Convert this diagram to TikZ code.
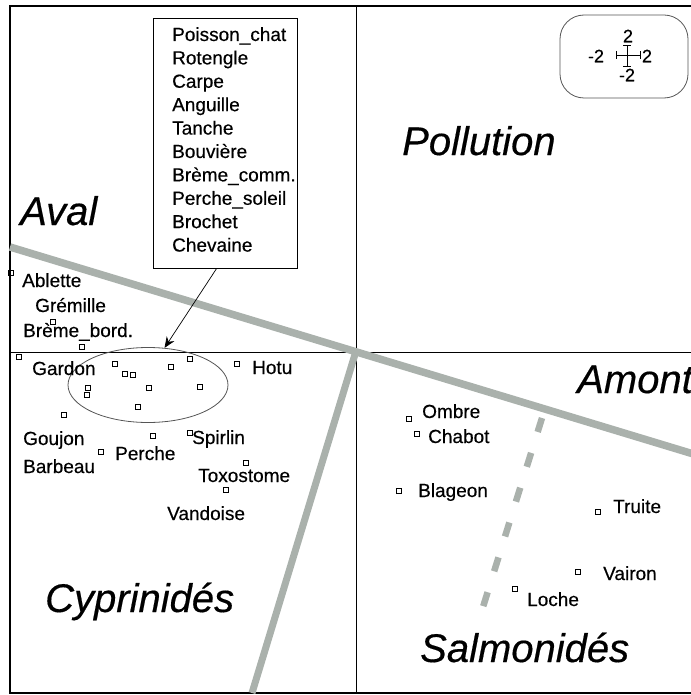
\documentclass[tikz,border=0pt]{standalone}
\usepackage{fontspec}
\setmainfont{Liberation Sans}[FakeBold=0.4]
\usetikzlibrary{shapes.geometric,arrows.meta,positioning}
\definecolor{grisaxe}{RGB}{170,177,172}
\definecolor{grisfin}{RGB}{85,85,85}
\newcommand{\petit}{\fontsize{19bp}{23.4bp}\selectfont}
\newcommand{\grand}{\fontsize{40bp}{41bp}\selectfont\itshape}
\tikzset{
    x = 1bp, y = -1bp,
    espece/.style = { anchor = base west, inner sep = 0,
        font = \petit
    },
    titre/.style = { anchor = base west, inner sep = 0,
        font = \grand
    },
    chiffre/.style = { inner sep = 0,
        font = \fontsize{18bp}{20bp}\selectfont
    },
    marque/.style = { draw, rectangle, line width = 0.7bp,
        minimum size = 4.5bp, inner sep = 0,
        node contents={}
    },
    cadre/.style = { draw, line width = 1.2bp },
    trait/.style = { draw, line width = 1bp },
    axe/.style = { draw = grisaxe, line width = 7.5bp },
    fleche/.style = { -{Stealth[length=11bp, width=9bp]}, line width = 0.7bp },
    croix/.style = { line width = 0.8bp }
}

\begin{document}
\begin{tikzpicture}
        \useasboundingbox (0,0) rectangle (691,695);

        % frame and quadrants...
        \draw[cadre] (10,6) rectangle (700,693);
        \draw[trait] (356,6) -- (356,693);
        \draw[trait] (10,352) -- (700,352);

        % grey axes...
        \coordinate (aval)    at (10,247);
        \coordinate (amont)   at (700,456);
        \coordinate (centre)  at (356,351);
        \coordinate (pied)    at (252,693);
        \coordinate (d_haut)  at (542,418);
        \coordinate (d_bas)   at (483,607);
        \path[axe] (aval) -- (amont);
        \path[axe, line width = 7bp] (centre) -- (pied);
        \path[axe, line width = 6.5bp, dash pattern = on 14.6bp off 21.9bp] (d_haut) -- (d_bas);

        % big labels...
        \node[titre] (t_aval)  at (20,225)  {Aval};
        \node[titre] (t_poll)  at (402,155) {Pollution};
        \node[titre] (t_amont) at (577,393) {Amont};
        \node[titre] (t_cyp)   at (45,612)  {Cyprinidés};
        \node[titre] (t_salm)  at (420,662) {Salmonidés};

        % scale box...
        \node[draw = grisfin, line width = 0.8bp, rounded corners = 24bp,
              minimum width = 128bp, minimum height = 83bp] (echelle) at (624,56.5) {};
        \node[chiffre] (haut)   at (628,36) {2};
        \node[chiffre] (gauche) at (596,56) {-2};
        \node[chiffre] (droite) at (647,56) {2};
        \node[chiffre] (bas)    at (627,75) {-2};
        \draw[croix] (616,55) -- (640,55);
        \draw[croix] (627,45) -- (627,66);
        \draw[croix] (616,51) -- (616,59);
        \draw[croix] (640,51) -- (640,59);
        \draw[croix] (623,45) -- (631,45);
        \draw[croix] (623,66) -- (631,66);

        % species list...
        \node[cadre, line width = 0.8bp, rectangle, anchor = north west, inner sep = 0,
              minimum width = 144bp, minimum height = 250bp] (liste) at (153,18) {};
        \node[espece, anchor = north west, align = left] (noms) at (172,27) {
            Poisson\_chat\\ Rotengle\\ Carpe\\ Anguille\\ Tanche\\
            Bouvière\\ Brème\_comm.\\ Perche\_soleil\\ Brochet\\ Chevaine
        };

        % cluster...
        \node[ellipse, draw = grisfin, line width = 0.8bp, inner sep = 0,
              minimum width = 160bp, minimum height = 75bp] (groupe) at (148,385) {};
        \draw[fleche] (liste.south) ++(-9,0) -- (groupe.66);
        \node (g1)  at (115,364) [marque];
        \node (g2)  at (125,374) [marque];
        \node (g3)  at (133,375) [marque];
        \node (g4)  at (171,367) [marque];
        \node (g5)  at (190,359) [marque];
        \node (g6)  at (88,388)  [marque];
        \node (g7)  at (87,395)  [marque];
        \node (g8)  at (149,388) [marque];
        \node (g9)  at (200,387) [marque];
        \node (g10) at (138,407) [marque];

        % cyprinids...
        \node (m_abl)  at (11,273)  [marque];
        \node (m_gre)  at (53,322)  [marque];
        \node (m_brb)  at (82,347)  [marque];
        \node (m_gar)  at (19,357)  [marque];
        \node (m_hot)  at (237,364) [marque];
        \node (m_gou)  at (64,415)  [marque];
        \node (m_bar)  at (101,452) [marque];
        \node (m_per)  at (153,436) [marque];
        \node (m_spi)  at (190,433) [marque];
        \node (m_tox)  at (246,463) [marque];
        \node (m_van)  at (226,490) [marque];
        \node[espece] (abl) at (22,287)  {Ablette};
        \node[espece] (gre) at (35,312)  {Grémille};
        \node[espece] (brb) at (23,337)  {Brème\_bord.};
        \node[espece] (gar) at (32,375)  {Gardon};
        \node[espece] (hot) at (252,374) {Hotu};
        \node[espece] (gou) at (23,445)  {Goujon};
        \node[espece] (bar) at (23,473)  {Barbeau};
        \node[espece] (per) at (115,460) {Perche};
        \node[espece] (spi) at (192,444) {Spirlin};
        \node[espece] (tox) at (198,482) {Toxostome};
        \node[espece] (van) at (167,520) {Vandoise};

        % salmonids...
        \node (m_omb) at (409,419) [marque];
        \node (m_cha) at (417,434) [marque];
        \node (m_bla) at (399,491) [marque];
        \node (m_tru) at (598,512) [marque];
        \node (m_vai) at (578,572) [marque];
        \node (m_loc) at (515,589) [marque];
        \node[espece] (omb) at (422,418) {Ombre};
        \node[espece] (cha) at (428,443) {Chabot};
        \node[espece] (bla) at (418,497) {Blageon};
        \node[espece] (tru) at (613,513) {Truite};
        \node[espece] (vai) at (603,580) {Vairon};
        \node[espece] (loc) at (527,606) {Loche};

\end{tikzpicture}
\end{document}
